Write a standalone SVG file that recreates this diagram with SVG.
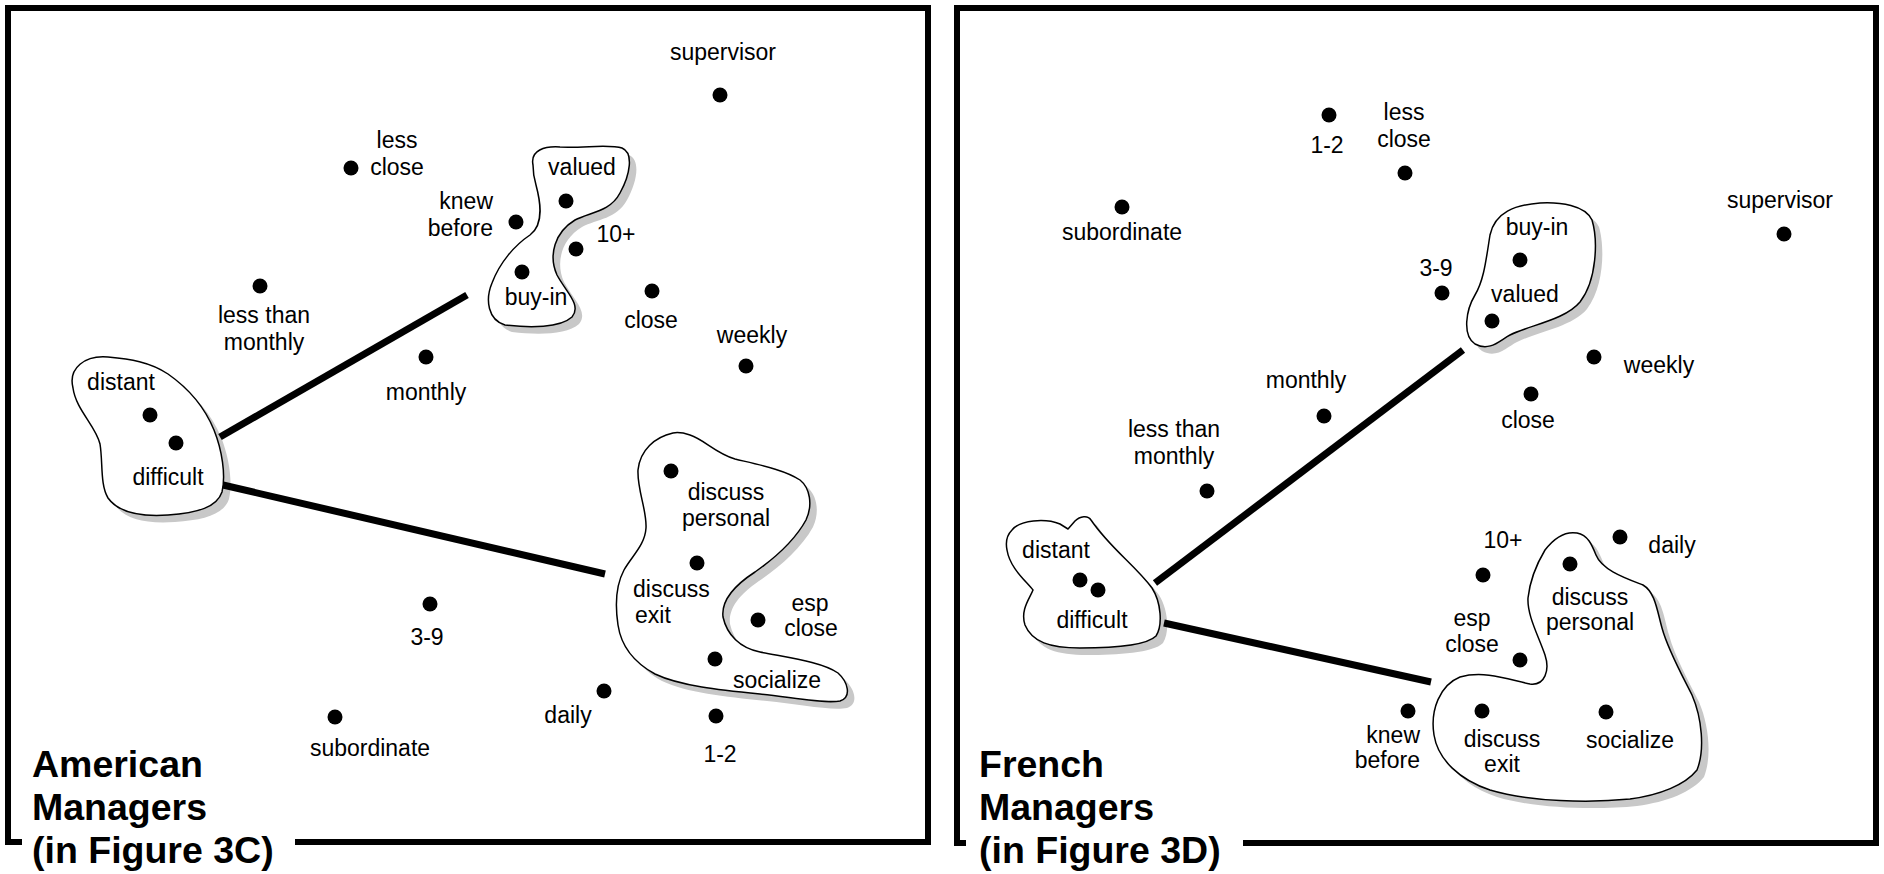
<svg xmlns="http://www.w3.org/2000/svg" xmlns:xlink="http://www.w3.org/1999/xlink" width="1884" height="874" viewBox="0 0 1884 874">
<style>
.t{font-family:"Liberation Sans",Arial,Helvetica,sans-serif;font-size:23px;fill:#000;text-anchor:middle}
.ts{text-anchor:start}
.te{text-anchor:end}
.title{font-family:"Liberation Sans",Arial,Helvetica,sans-serif;font-weight:bold;font-size:37.5px;fill:#000}
.dot{fill:#000}
.blob{fill:#fff;stroke:#000;stroke-width:1.5;stroke-linejoin:round}
.shadow{fill:#c8c8c8;stroke:none}
.frame{fill:none;stroke:#000;stroke-width:6;stroke-linejoin:miter}
.conn{stroke:#000;stroke-width:7;stroke-linecap:butt;fill:none}
</style>
<defs>
<path id="pA" d="M 73 388 C 68 368, 85 355, 108 357 C 130 359, 150 362, 168 374 C 188 388, 205 408, 214 430 C 222 450, 226 475, 222 492 C 217 507, 198 513, 168 515 C 138 517, 118 512, 108 498 C 100 485, 103 462, 100 444 C 96 426, 76 410, 73 388 Z"/>
<path id="pB" d="M 533 165 C 530 150, 545 146, 560 147 C 585 148, 610 144, 622 148 C 634 153, 630 175, 620 193 C 610 212, 590 212, 575 220 C 555 232, 548 255, 557 275 C 566 292, 582 305, 572 317 C 560 328, 530 328, 505 325 C 488 320, 485 300, 492 283 C 500 262, 515 245, 530 235 C 545 224, 540 200, 536 185 C 533 175, 533 170, 533 165 Z"/>
<path id="pC" d="M 673 433 C 655 437, 640 450, 638 470 C 637 490, 647 510, 646 528 C 645 545, 632 556, 624 570 C 616 585, 615 605, 618 625 C 621 645, 633 662, 655 674 C 680 686, 720 690, 760 694 C 790 697, 825 704, 840 701 C 852 697, 848 682, 838 673 C 822 662, 790 658, 760 652 C 740 648, 727 635, 723 617 C 721 600, 735 585, 755 572 C 775 558, 795 540, 806 520 C 813 505, 810 488, 800 480 C 785 470, 760 465, 735 459 C 715 453, 705 440, 690 435 C 684 433, 678 432, 673 433 Z"/>
<path id="pD" d="M 1012 530 C 1020 520, 1045 518, 1060 524 L 1068 529 L 1075 521 C 1080 516, 1088 515, 1091 520 C 1110 548, 1135 565, 1152 588 C 1161 602, 1163 625, 1156 636 C 1146 646, 1110 648, 1080 648 C 1050 648, 1032 642, 1025 625 C 1020 610, 1030 598, 1033 590 C 1025 580, 1010 568, 1007 550 C 1005 540, 1008 534, 1012 530 Z"/>
<path id="pE" d="M 1540 203 C 1515 205, 1495 212, 1490 235 C 1486 260, 1484 280, 1475 295 C 1466 310, 1462 335, 1475 344 C 1490 352, 1500 340, 1510 335 C 1530 325, 1565 320, 1580 302 C 1597 280, 1598 240, 1592 220 C 1585 205, 1560 202, 1540 203 Z"/>
<path id="pF" d="M 1577 533 C 1588 535, 1592 545, 1596 555 C 1602 570, 1625 578, 1643 585 C 1655 592, 1657 610, 1662 628 C 1668 650, 1682 675, 1692 695 C 1702 718, 1705 750, 1697 770 C 1685 785, 1660 795, 1630 799 C 1590 803, 1530 802, 1490 790 C 1460 780, 1438 760, 1434 735 C 1430 710, 1440 685, 1460 677 C 1485 670, 1510 680, 1530 684 C 1545 686, 1550 670, 1545 655 C 1538 635, 1527 615, 1528 598 C 1530 580, 1536 565, 1545 550 C 1555 537, 1565 531, 1577 533 Z"/>
</defs>

<g id="frames">
<path class="frame" d="M 22 842 L 8 842 L 8 8 L 928 8 L 928 842 L 295 842"/>
<path class="frame" d="M 966 843 L 957 843 L 957 8 L 1876 8 L 1876 843 L 1243 843"/>
</g>

<g id="blobs">
<g id="blob-am-distant"><use href="#pA" class="shadow" transform="translate(7,7)"/><use href="#pA" class="blob"/></g>
<g id="blob-am-valued"><use href="#pB" class="shadow" transform="translate(7,7)"/><use href="#pB" class="blob"/></g>
<g id="blob-am-discuss"><use href="#pC" class="shadow" transform="translate(7,7)"/><use href="#pC" class="blob"/></g>
<g id="blob-fr-distant"><use href="#pD" class="shadow" transform="translate(7,7)"/><use href="#pD" class="blob"/></g>
<g id="blob-fr-buyin"><use href="#pE" class="shadow" transform="translate(7,7)"/><use href="#pE" class="blob"/></g>
<g id="blob-fr-discuss"><use href="#pF" class="shadow" transform="translate(7,7)"/><use href="#pF" class="blob"/></g>
</g>

<g id="connectors">
<line class="conn" x1="220" y1="437" x2="467" y2="295"/>
<line class="conn" x1="223" y1="485" x2="605" y2="574"/>
<line class="conn" x1="1155" y1="583" x2="1463" y2="350"/>
<line class="conn" x1="1164" y1="623" x2="1431" y2="682"/>
</g>

<!-- American managers -->
<g id="am-supervisor"><circle class="dot" cx="720" cy="95" r="7.5"/><text class="t" x="723" y="60">supervisor</text></g>
<g id="am-lessclose"><circle class="dot" cx="351" cy="168" r="7.5"/><text class="t" x="397" y="148">less</text><text class="t" x="397" y="175">close</text></g>
<g id="am-valued"><circle class="dot" cx="566" cy="201" r="7.5"/><text class="t" x="582" y="175">valued</text></g>
<g id="am-knewbefore"><circle class="dot" cx="516" cy="222" r="7.5"/><text class="t te" x="493" y="209">knew</text><text class="t te" x="493" y="236">before</text></g>
<g id="am-10plus"><circle class="dot" cx="576" cy="249" r="7.5"/><text class="t" x="616" y="242">10+</text></g>
<g id="am-buyin"><circle class="dot" cx="522" cy="272" r="7.5"/><text class="t" x="536" y="305">buy-in</text></g>
<g id="am-close"><circle class="dot" cx="652" cy="291" r="7.5"/><text class="t" x="651" y="328">close</text></g>
<g id="am-weekly"><circle class="dot" cx="746" cy="366" r="7.5"/><text class="t" x="752" y="343">weekly</text></g>
<g id="am-lessthanmonthly"><circle class="dot" cx="260" cy="286" r="7.5"/><text class="t" x="264" y="323">less than</text><text class="t" x="264" y="350">monthly</text></g>
<g id="am-monthly"><circle class="dot" cx="426" cy="357" r="7.5"/><text class="t" x="426" y="400">monthly</text></g>
<g id="am-distant"><circle class="dot" cx="150" cy="415" r="7.5"/><text class="t" x="121" y="390">distant</text></g>
<g id="am-difficult"><circle class="dot" cx="176" cy="443" r="7.5"/><text class="t" x="168" y="485">difficult</text></g>
<g id="am-discusspersonal"><circle class="dot" cx="671" cy="471" r="7.5"/><text class="t" x="726" y="500">discuss</text><text class="t" x="726" y="526">personal</text></g>
<g id="am-discussexit"><circle class="dot" cx="697" cy="563" r="7.5"/><text class="t ts" x="633" y="597">discuss</text><text class="t ts" x="635" y="623">exit</text></g>
<g id="am-espclose"><circle class="dot" cx="758" cy="620" r="7.5"/><text class="t" x="810" y="611">esp</text><text class="t" x="811" y="636">close</text></g>
<g id="am-socialize"><circle class="dot" cx="715" cy="659" r="7.5"/><text class="t" x="777" y="688">socialize</text></g>
<g id="am-3to9"><circle class="dot" cx="430" cy="604" r="7.5"/><text class="t" x="427" y="645">3-9</text></g>
<g id="am-daily"><circle class="dot" cx="604" cy="691" r="7.5"/><text class="t" x="568" y="723">daily</text></g>
<g id="am-1to2"><circle class="dot" cx="716" cy="716" r="7.5"/><text class="t" x="720" y="762">1-2</text></g>
<g id="am-subordinate"><circle class="dot" cx="335" cy="717" r="7.5"/><text class="t" x="370" y="756">subordinate</text></g>
<g id="am-title"><text class="title" x="32" y="777">American</text><text class="title" x="32" y="820">Managers</text><text class="title" x="32" y="863">(in Figure 3C)</text></g>

<!-- French managers -->
<g id="fr-1to2"><circle class="dot" cx="1329" cy="115" r="7.5"/><text class="t" x="1327" y="153">1-2</text></g>
<g id="fr-lessclose"><circle class="dot" cx="1405" cy="173" r="7.5"/><text class="t" x="1404" y="120">less</text><text class="t" x="1404" y="147">close</text></g>
<g id="fr-subordinate"><circle class="dot" cx="1122" cy="207" r="7.5"/><text class="t" x="1122" y="240">subordinate</text></g>
<g id="fr-supervisor"><circle class="dot" cx="1784" cy="234" r="7.5"/><text class="t" x="1780" y="208">supervisor</text></g>
<g id="fr-buyin"><circle class="dot" cx="1520" cy="260" r="7.5"/><text class="t" x="1537" y="235">buy-in</text></g>
<g id="fr-3to9"><circle class="dot" cx="1442" cy="293" r="7.5"/><text class="t" x="1436" y="276">3-9</text></g>
<g id="fr-valued"><circle class="dot" cx="1492" cy="321" r="7.5"/><text class="t" x="1525" y="302">valued</text></g>
<g id="fr-weekly"><circle class="dot" cx="1594" cy="357" r="7.5"/><text class="t" x="1659" y="373">weekly</text></g>
<g id="fr-close"><circle class="dot" cx="1531" cy="394" r="7.5"/><text class="t" x="1528" y="428">close</text></g>
<g id="fr-monthly"><circle class="dot" cx="1324" cy="416" r="7.5"/><text class="t" x="1306" y="388">monthly</text></g>
<g id="fr-lessthanmonthly"><circle class="dot" cx="1207" cy="491" r="7.5"/><text class="t" x="1174" y="437">less than</text><text class="t" x="1174" y="464">monthly</text></g>
<g id="fr-distant"><circle class="dot" cx="1080" cy="580" r="7.5"/><text class="t" x="1056" y="558">distant</text></g>
<g id="fr-difficult"><circle class="dot" cx="1098" cy="590" r="7.5"/><text class="t" x="1092" y="628">difficult</text></g>
<g id="fr-10plus"><circle class="dot" cx="1483" cy="575" r="7.5"/><text class="t" x="1503" y="548">10+</text></g>
<g id="fr-daily"><circle class="dot" cx="1620" cy="537" r="7.5"/><text class="t" x="1672" y="553">daily</text></g>
<g id="fr-discusspersonal"><circle class="dot" cx="1570" cy="564" r="7.5"/><text class="t" x="1590" y="605">discuss</text><text class="t" x="1590" y="630">personal</text></g>
<g id="fr-espclose"><circle class="dot" cx="1520" cy="660" r="7.5"/><text class="t" x="1472" y="626">esp</text><text class="t" x="1472" y="652">close</text></g>
<g id="fr-knewbefore"><circle class="dot" cx="1408" cy="711" r="7.5"/><text class="t te" x="1420" y="743">knew</text><text class="t te" x="1420" y="768">before</text></g>
<g id="fr-discussexit"><circle class="dot" cx="1482" cy="711" r="7.5"/><text class="t" x="1502" y="747">discuss</text><text class="t" x="1502" y="772">exit</text></g>
<g id="fr-socialize"><circle class="dot" cx="1606" cy="712" r="7.5"/><text class="t" x="1630" y="748">socialize</text></g>
<g id="fr-title"><text class="title" x="979" y="777">French</text><text class="title" x="979" y="820">Managers</text><text class="title" x="979" y="863">(in Figure 3D)</text></g>
</svg>
